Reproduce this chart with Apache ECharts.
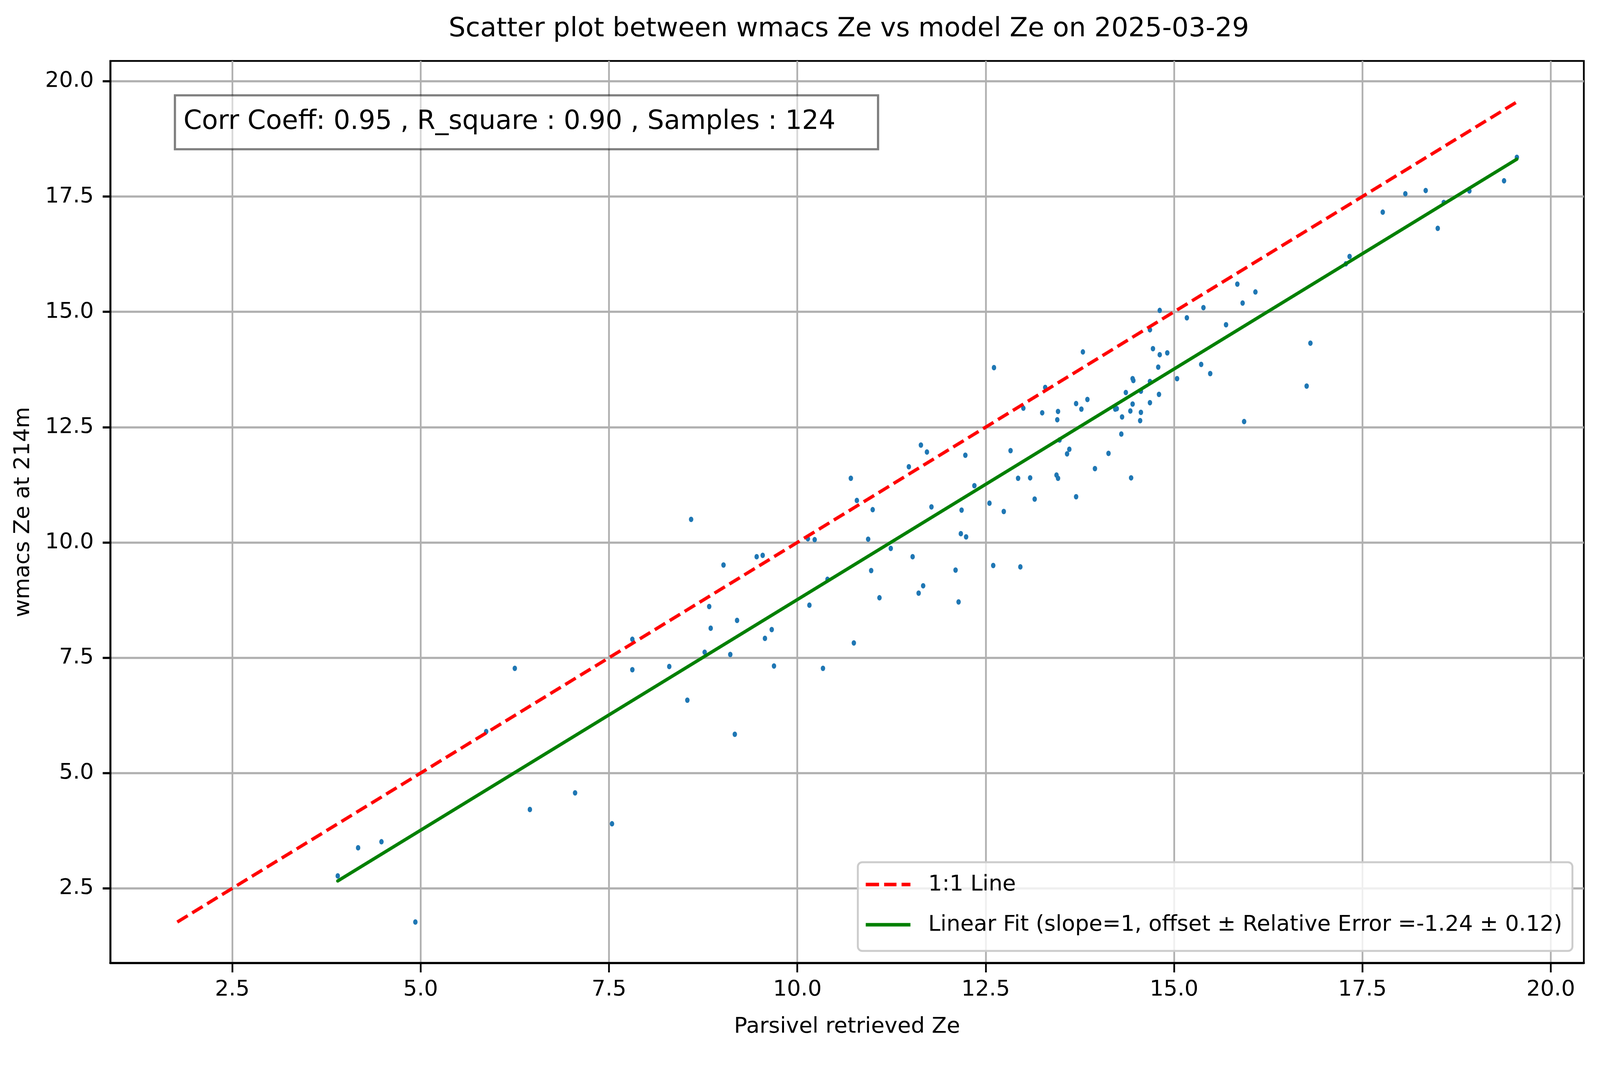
<!DOCTYPE html>
<html>
<head>
<meta charset="utf-8">
<title>wmacs Ze vs model Ze</title>
<script src="https://cdn.jsdelivr.net/npm/echarts@6/dist/echarts.min.js"></script>
<style>
  html, body { margin: 0; padding: 0; background: #fff; overflow: hidden; }
  #main { width: 100vw; height: 100vh; }
</style>
</head>
<body>
<div id="main"></div>
<script>
// Parsivel retrieved Ze (x) and wmacs Ze at 214m (y)
var parsivelZe = [
    3.90, 4.17, 4.48, 4.93, 5.87, 6.25, 6.45, 7.05, 7.54, 7.81, 7.81,
    8.59, 8.30, 8.54, 8.77, 8.83, 8.85, 9.02, 9.11, 9.17, 9.20, 9.46, 9.54, 9.57, 9.66, 9.69,
    10.14, 10.23, 10.16, 10.34, 10.40, 10.71, 10.79, 10.75, 11.00, 10.94, 10.98, 11.09, 11.24,
    11.48, 11.53, 11.64, 11.72, 11.61, 11.67, 11.78,
    12.61, 12.23, 12.35, 12.18, 12.17, 12.24, 12.10, 12.14, 12.60, 12.96, 12.55, 12.74, 12.83,
    12.93, 13.09, 13.15, 13.00, 13.25, 13.29, 13.45, 13.46, 13.48, 13.44, 13.46, 13.58, 13.61,
    13.70, 13.70, 13.77, 13.79, 13.85, 13.95, 14.13, 14.22, 14.24, 14.31, 14.30, 14.36, 14.43,
    14.42, 14.45, 14.45, 14.46, 14.56, 14.56, 14.55, 14.68, 14.68, 14.68, 14.72, 14.81, 14.79,
    14.80, 14.91, 14.81, 15.04, 15.17,
    17.33, 17.28, 15.84, 16.08, 15.91, 15.39, 15.69, 15.36, 15.48, 15.93, 16.81, 16.76,
    19.55, 19.38, 18.92, 18.34, 18.07, 17.77, 18.58, 18.50
];
var wmacsZe = [
    2.77, 3.38, 3.51, 1.77, 5.90, 7.27, 4.21, 4.57, 3.90, 7.90, 7.24,
    10.50, 7.31, 6.58, 7.62, 8.61, 8.14, 9.51, 7.57, 5.84, 8.31, 9.69, 9.72, 7.92, 8.11, 7.32,
    10.08, 10.06, 8.64, 7.27, 9.20, 11.39, 10.91, 7.82, 10.71, 10.07, 9.39, 8.80, 9.87,
    11.64, 9.69, 12.11, 11.96, 8.90, 9.06, 10.77,
    13.79, 11.89, 11.23, 10.70, 10.19, 10.12, 9.40, 8.71, 9.50, 9.47, 10.85, 10.67, 11.99,
    11.39, 11.40, 10.94, 12.91, 12.81, 13.36, 12.66, 12.84, 12.22, 11.46, 11.39, 11.92, 12.02,
    10.99, 13.01, 12.89, 14.13, 13.10, 11.60, 11.93, 12.89, 12.90, 12.72, 12.35, 13.25, 11.40,
    12.85, 13.00, 13.55, 13.51, 13.28, 12.82, 12.64, 13.49, 13.03, 14.61, 14.20, 14.07, 13.80,
    13.21, 14.11, 15.03, 13.55, 14.87,
    16.20, 16.04, 15.60, 15.43, 15.19, 15.09, 14.72, 13.86, 13.66, 12.62, 14.32, 13.39,
    18.35, 17.84, 17.62, 17.63, 17.56, 17.16, 17.37, 16.81
];
var tickValues = [2.5, 5.0, 7.5, 10.0, 12.5, 15.0, 17.5, 20.0];
var fitOffset = -1.24;

var titleText = 'Scatter plot between wmacs Ze vs model Ze on 2025-03-29';
var statsText = 'Corr Coeff: 0.95 , R_square : 0.90 , Samples : 124';
var oneToOneName = '1:1 Line';
var fitName = 'Linear Fit (slope=1, offset \u00b1 Relative Error =-1.24 \u00b1 0.12)';

var FONT = 'DejaVu Sans';

// layout was measured on the 5048x2726 picture, scale it to the real window
var W = window.innerWidth || 5048;
var H = window.innerHeight || 2726;
var sx = W / 5048, sy = H / 2726;
function px(v) { return v * sx; }   // horizontal sizes and fonts
function py(v) { return v * sy; }   // vertical sizes

var points = [];
for (var i = 0; i < parsivelZe.length; i++) {
    points.push([parsivelZe[i], wmacsZe[i]]);
}
// 1:1 line spans all data, the fit spans the x data
var lo = Math.min(Math.min.apply(null, parsivelZe), Math.min.apply(null, wmacsZe));
var hi = Math.max(Math.max.apply(null, parsivelZe), Math.max.apply(null, wmacsZe));
var xLo = Math.min.apply(null, parsivelZe);
var xHi = Math.max.apply(null, parsivelZe);
// matplotlib style 5% margins
var pad = (hi - lo) * 0.05;
var axMin = lo - pad, axMax = hi + pad;

function makeAxis(name, gap, labelMargin, f, g) {
    return {
        type: 'value',
        min: axMin,
        max: axMax,
        name: name,
        nameLocation: 'middle',
        nameGap: f(gap),
        nameTextStyle: { fontSize: px(69), color: '#000', fontFamily: FONT },
        axisLine: { show: true, onZero: false, lineStyle: { color: '#000', width: f(5.5) } },
        axisTick: { show: true, length: f(24), customValues: tickValues, lineStyle: { color: '#000', width: g(5.5) } },
        axisLabel: {
            customValues: tickValues,
            fontSize: px(69), color: '#000', fontFamily: FONT, margin: f(labelMargin),
            formatter: function (v) { return v.toFixed(1); }
        },
        splitLine: { show: true, lineStyle: { color: '#b0b0b0', width: g(5.5) } }
    };
}

var myChart = echarts.init(document.getElementById('main'), null, { renderer: 'canvas' });
var option = {
    animation: false,
    backgroundColor: '#fff',
    textStyle: { fontFamily: FONT },
    title: [{
        text: titleText,
        left: px(2672),
        textAlign: 'center',
        top: py(36),
        textStyle: { fontSize: px(84), fontWeight: 'normal', color: '#000', fontFamily: FONT }
    }, {
        // stats box, half transparent like the matplotlib bbox
        text: statsText,
        left: px(551),
        top: py(244),
        padding: [py(19), px(135), py(19), px(28)],
        backgroundColor: 'rgba(255,255,255,0.5)',
        borderColor: 'rgba(0,0,0,0.5)',
        borderWidth: px(7),
        textStyle: { fontSize: px(83), fontWeight: 'normal', color: '#000', fontFamily: FONT, lineHeight: py(100) }
    }],
    grid: {
        left: px(348), right: px(51), top: py(156), bottom: py(261),
        show: true, borderColor: '#000', borderWidth: px(5.5), backgroundColor: 'transparent'
    },
    legend: {
        data: [{
            name: oneToOneName,
            icon: 'path://M0,0H42V11H0Z M58,0H97V11H58Z M113,0H141V11H113Z'
        }, {
            name: fitName,
            icon: 'path://M0,0H141V11H0Z'
        }],
        orient: 'vertical',
        right: px(87),
        bottom: py(292),
        itemWidth: px(141),
        itemHeight: py(11),
        itemGap: py(23),
        padding: [py(17), px(32), py(27), px(25)],
        backgroundColor: 'rgba(255,255,255,0.8)',
        borderColor: '#cccccc',
        borderWidth: px(6),
        borderRadius: px(14),
        itemStyle: { borderWidth: 0 },
        textStyle: { fontSize: px(69), color: '#000', fontFamily: FONT, lineHeight: py(80), padding: [0, 0, 0, px(50)] }
    },
    xAxis: makeAxis('Parsivel retrieved Ze', 135, 40, py, px),
    yAxis: makeAxis('wmacs Ze at 214m', 240, 52, px, py),
    series: [{
        type: 'scatter',
        data: points,
        symbolSize: [px(14), py(14)],
        itemStyle: { color: '#1f77b4', opacity: 1 },
        z: 2
    }, {
        name: oneToOneName,
        type: 'line',
        data: [[lo, lo], [hi, hi]],
        symbol: 'none',
        itemStyle: { color: '#ff0000' },
        lineStyle: { color: '#ff0000', width: px(10.4), type: [px(38.5), px(16.7)] },
        z: 3
    }, {
        name: fitName,
        type: 'line',
        data: [[xLo, xLo + fitOffset], [xHi, xHi + fitOffset]],
        symbol: 'none',
        itemStyle: { color: '#008000' },
        lineStyle: { color: '#008000', width: px(10.4), cap: 'round' },
        z: 4
    }]
};
myChart.setOption(option);
</script>
</body>
</html>
